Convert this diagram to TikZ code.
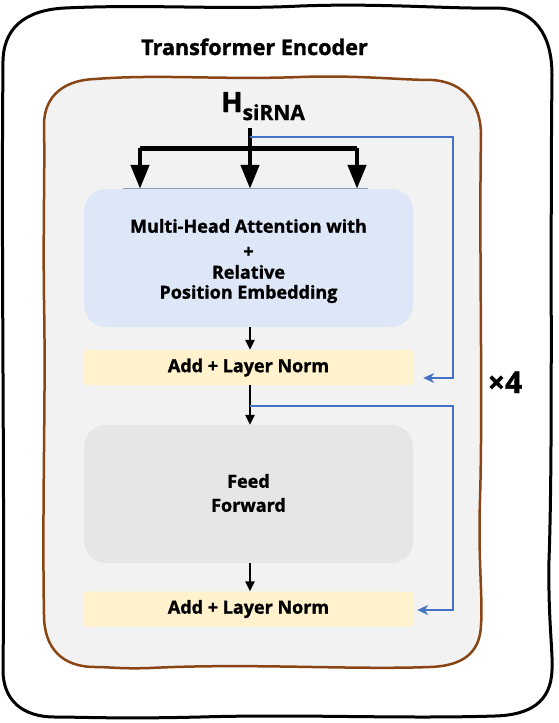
\documentclass[tikz,border=0pt]{standalone}
\usepackage{fontspec}
\setmainfont{Open Sans}[BoldFeatures={FakeBold=1.3}]
\usetikzlibrary{arrows.meta,calc}
\definecolor{brownline}{HTML}{8A4515}
\definecolor{innerbg}{HTML}{F2F2F2}
\definecolor{mhafill}{HTML}{DEE7F7}
\definecolor{addfill}{HTML}{FFF2CC}
\definecolor{fffill}{HTML}{E6E6E6}
\definecolor{resblue}{HTML}{4472C4}
\definecolor{thinline}{HTML}{8A9BB5}
\tikzset{
  blockbox/.style={rectangle,rounded corners=22pt,minimum width=329pt,minimum height=138pt,inner sep=0pt},
  blocktext/.style={align=center,font=\bfseries\fontsize{18}{21}\selectfont,inner sep=0pt},
  addbox/.style={rectangle,rounded corners=2pt,fill=addfill,minimum width=329pt,minimum height=35pt,
    font=\bfseries\fontsize{18}{21}\selectfont,inner sep=0pt},
  bigarrow/.style={line width=4.5pt,-{Triangle[width=18pt,length=24pt]}},
  bigline/.style={line width=5pt},
  smallarrow/.style={line width=2.4pt,-{Triangle[width=9pt,length=10pt]}},
  resarrow/.style={resblue,line width=2.6pt,-{Stealth[width=10pt,length=11pt]}},
}
\begin{document}
\begin{tikzpicture}[x=1pt,y=-1pt]
\useasboundingbox (0,0) rectangle (558,723);
\fill[white] (0,0) rectangle (558,723);
% outer frame (hand-drawn look)
\draw[line width=3pt,line join=round]
  (3,65) .. controls (2,28) and (25,10) .. (65,8)
  .. controls (150,4) and (220,10) .. (300,6)
  .. controls (380,3) and (450,9) .. (495,8)
  .. controls (535,8) and (552,35) .. (552,75)
  .. controls (550,250) and (553,450) .. (549,560)
  .. controls (548,620) and (553,650) .. (552,670)
  .. controls (551,702) and (530,715) .. (495,716)
  .. controls (400,719) and (300,714) .. (200,717)
  .. controls (120,719) and (80,717) .. (55,717)
  .. controls (22,717) and (3,700) .. (3,670)
  .. controls (5,500) and (1,250) .. cycle;
\node[font=\bfseries\fontsize{21.6}{24}\selectfont,anchor=base,inner sep=0pt] (title) at (254.5,55) {Transformer Encoder};
% inner frame (hand-drawn look)
\draw[line width=2.5pt,brownline,fill=innerbg,line join=round]
  (44,125) .. controls (44,95) and (65,80) .. (95,79)
  .. controls (160,74) and (220,80) .. (300,77)
  .. controls (360,75) and (400,80) .. (432,80)
  .. controls (465,82) and (481,105) .. (481,135)
  .. controls (479,250) and (483,400) .. (480,500)
  .. controls (478,560) and (483,600) .. (481,625)
  .. controls (480,655) and (460,666) .. (430,667)
  .. controls (350,670) and (250,663) .. (150,668)
  .. controls (120,669) and (110,667) .. (95,667)
  .. controls (62,667) and (44,648) .. (44,615)
  .. controls (42,500) and (46,400) .. (44,300)
  .. controls (43,220) and (45,170) .. cycle;
\node[font=\bfseries\fontsize{30}{32}\selectfont,anchor=base,inner sep=0pt] (times) at (505,393) {×4};
% blocks
\node[blockbox,fill=mhafill] (mha) at (248.5,258) {};
\node[blocktext] (mhatext) at (248.5,261) {Multi-Head Attention with\\[4pt]+\\Relative\\[-1pt]Position Embedding};
\node[addbox] (add1) at (248.5,367.5) {Add + Layer Norm};
\node[blockbox,fill=fffill] (ff) at (248.5,494) {};
\node[blocktext] (fftext) at (248.5,493) {Feed\\[3pt]Forward};
\node[addbox] (add2) at (248.5,609) {Add + Layer Norm};
\draw[thinline,line width=0.8pt] ($(mha.north)+(-126,0)$) -- ($(mha.north)+(119,0)$);
% input
\node[inner sep=0pt,anchor=base west] (H) at (221,112)
  {{\fontsize{28}{30}\selectfont\bfseries H}\raisebox{-8pt}{\fontsize{21}{22}\selectfont\bfseries siRNA}};
\coordinate (s) at (250,128);
\coordinate (r1) at (250,137);
\coordinate (fl) at (140,148);
\coordinate (fr) at (357,148);
\draw[bigline] (fl) -- (fr);
\draw[bigarrow] (s) -- (mha.north -| s);
\draw[bigarrow] (fl) -- (mha.north -| fl);
\draw[bigarrow] (fr) -- (mha.north -| fr);
% main flow
\draw[smallarrow] (mha.south -| s) -- (add1.north -| s);
\draw[smallarrow] (add1.south -| s) -- (ff.north -| s);
\draw[smallarrow] (ff.south -| s) -- (add2.north -| s);
% residuals
\coordinate (r2) at (250,406);
\draw[resarrow] (r1) -- (453,137) |- ([xshift=10pt,yshift=-10.5pt]add1.east);
\draw[resarrow] (r2) -- (453,406) |- ([xshift=4pt,yshift=-1pt]add2.east);
\end{tikzpicture}
\end{document}
